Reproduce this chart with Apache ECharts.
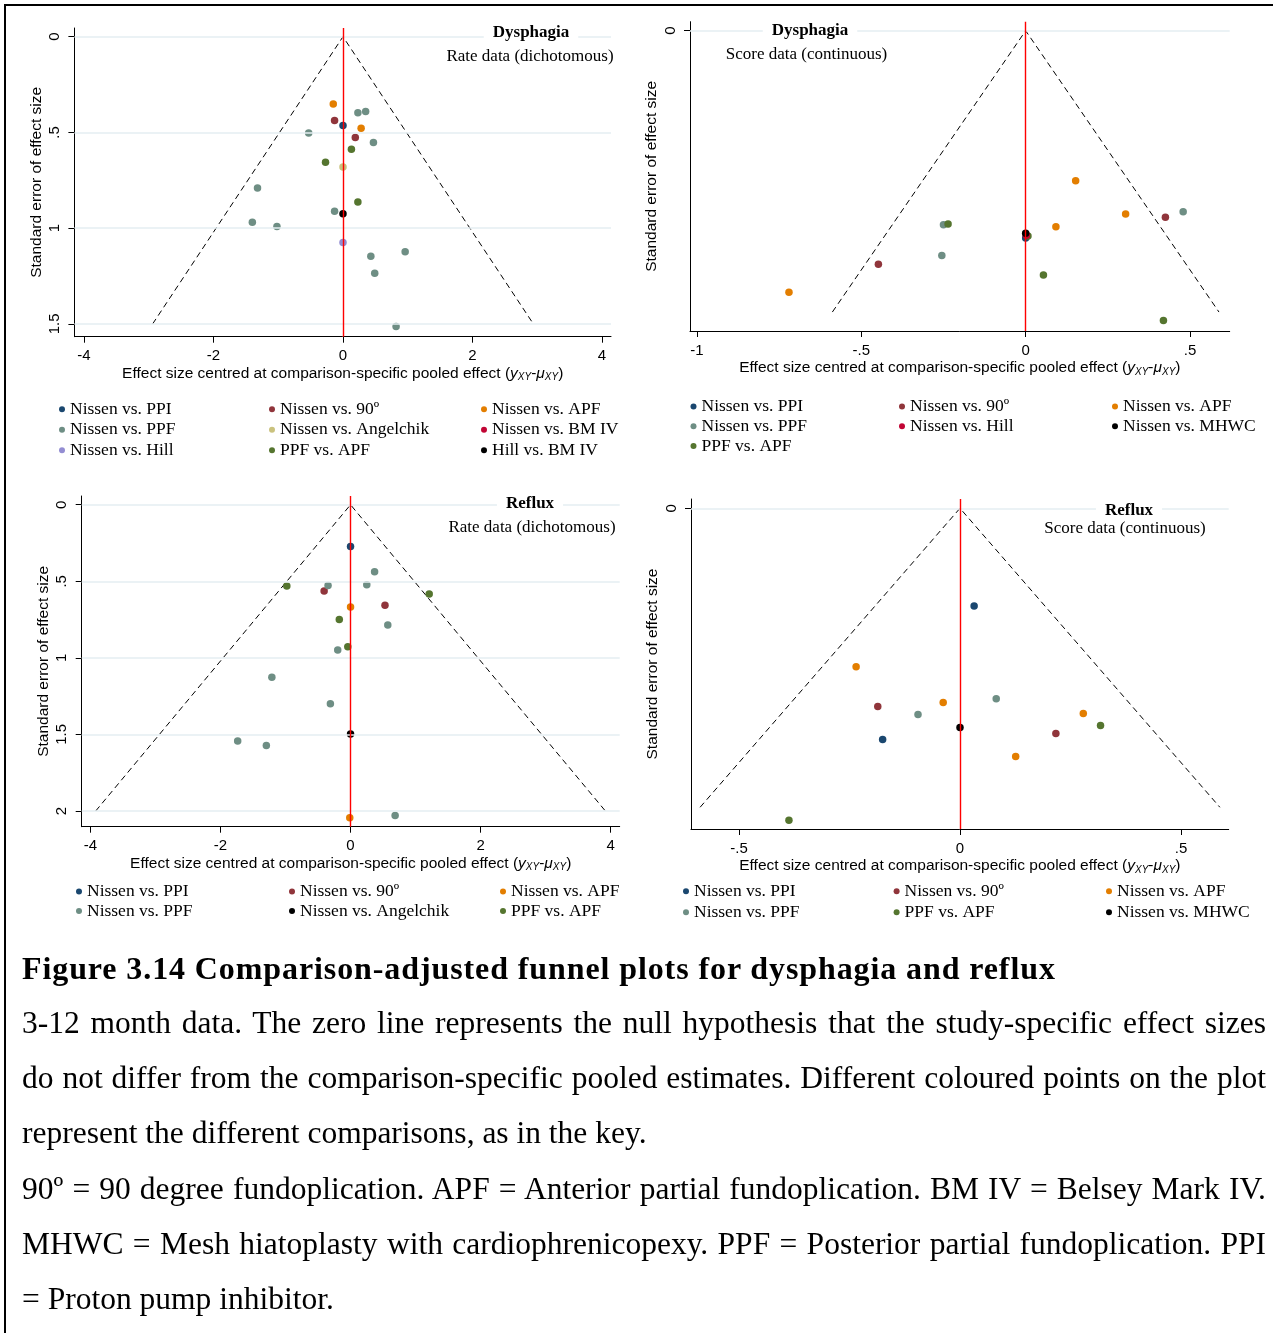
<!DOCTYPE html>
<html><head><meta charset="utf-8">
<script src="https://cdn.jsdelivr.net/npm/echarts@6/dist/echarts.min.js"></script>
<style>
html,body{margin:0;padding:0;background:#fff;}
#wrap{position:relative;width:1273px;height:1333px;overflow:hidden;background:#fff;}
#chart{position:absolute;left:0;top:0;width:1273px;height:1333px;}
#frame{position:absolute;left:4px;top:4px;width:1269px;height:1329px;border-top:2px solid #000;border-left:2px solid #000;box-sizing:border-box;pointer-events:none;}
.ttl{position:absolute;left:22px;top:948px;font-family:'Liberation Serif','Times New Roman',serif;font-weight:bold;font-size:32px;letter-spacing:0.9px;line-height:40px;white-space:nowrap;color:#000;}
.body{position:absolute;left:22px;top:995px;width:1244px;font-family:'Liberation Serif','Times New Roman',serif;font-size:31.5px;line-height:55.2px;color:#000;}
.j{text-align:justify;text-align-last:justify;}
.l{text-align:left;}
</style></head>
<body>
<div id="wrap">
<div id="chart"></div>
<div id="frame"></div>
<div class="ttl">Figure 3.14 Comparison-adjusted funnel plots for dysphagia and reflux</div>
<div class="body">
<div class="j">3-12 month data. The zero line represents the null hypothesis that the study-specific effect sizes</div>
<div class="j">do not differ from the comparison-specific pooled estimates. Different coloured points on the plot</div>
<div class="l">represent the different comparisons, as in the key.</div>
<div class="j">90º = 90 degree fundoplication. APF = Anterior partial fundoplication. BM IV = Belsey Mark IV.</div>
<div class="j">MHWC = Mesh hiatoplasty with cardiophrenicopexy. PPF = Posterior partial fundoplication. PPI</div>
<div class="l">= Proton pump inhibitor.</div>
</div>
</div>
<script>
// ---- tick labels ----
const xTicks1 = [-4, -2, 0, 2, 4];
const yTicks1 = [0, 0.5, 1, 1.5];
const xTicks2 = [-1, -0.5, 0, 0.5];
const yTicks2 = [0];
const xTicks3 = [-4, -2, 0, 2, 4];
const yTicks3 = [0, 0.5, 1, 1.5, 2];
const xTicks4 = [-0.5, 0, 0.5];
const yTicks4 = [0];

// ---- funnel limits (pseudo 95% CI) ----
const funnel1 = [[-2.94, 1.5], [0, 0], [2.94, 1.5]];
const funnel2 = [[-0.588, 0.3], [0, 0], [0.588, 0.3]];
const funnel3 = [[-3.92, 2], [0, 0], [3.92, 2]];
const funnel4 = [[-0.588, 0.3], [0, 0], [0.588, 0.3]];

// ---- Plot 1: Dysphagia, rate data ----
const p1_PPI = [[0.0, 0.464]];
const p1_90 = [[-0.13, 0.438], [0.19, 0.527]];
const p1_APF = [[-0.15, 0.351], [0.28, 0.478]];
const p1_PPF = [[0.23, 0.397], [0.35, 0.391], [-0.53, 0.503], [0.47, 0.553], [-1.32, 0.79], [-0.13, 0.911], [-1.40, 0.969], [-1.02, 0.991], [0.96, 1.123], [0.43, 1.146], [0.49, 1.235], [0.82, 1.513]];
const p1_Angelchik = [[0.0, 0.68]];
const p1_BMIV = [];
const p1_Hill = [[0.0, 1.075]];
const p1_PPFAPF = [[0.13, 0.588], [-0.27, 0.656], [0.23, 0.863]];
const p1_HillBMIV = [[0.0, 0.925]];

// ---- Plot 2: Dysphagia, score data ----
const p2_PPI = [[0.0, 0.221]];
const p2_90 = [[0.425, 0.199], [-0.448, 0.249]];
const p2_APF = [[0.152, 0.160], [0.304, 0.1955], [0.092, 0.209], [-0.72, 0.279]];
const p2_PPF = [[0.479, 0.193], [-0.250, 0.207], [-0.255, 0.2396]];
const p2_Hill = [[0.002, 0.218]];
const p2_MHWC = [[0.0, 0.216]];
const p2_PPFAPF = [[-0.236, 0.206], [0.007, 0.219], [0.054, 0.2606], [0.419, 0.309]];

// ---- Plot 3: Reflux, rate data ----
const p3_PPI = [[0.0, 0.272]];
const p3_90 = [[-0.406, 0.564], [0.53, 0.657]];
const p3_APF = [[0.0, 0.668], [-0.012, 2.044]];
const p3_PPF = [[0.37, 0.437], [-0.346, 0.527], [0.25, 0.522], [0.573, 0.786], [-0.197, 0.949], [-1.21, 1.127], [-0.31, 1.299], [-1.736, 1.543], [-1.295, 1.573], [0.686, 2.030]];
const p3_Angelchik = [[0.0, 1.497]];
const p3_PPFAPF = [[-0.98, 0.531], [1.21, 0.583], [-0.173, 0.749], [-0.042, 0.927]];

// ---- Plot 4: Reflux, score data ----
const p4_PPI = [[0.032, 0.098], [-0.175, 0.232]];
const p4_90 = [[-0.186, 0.199], [0.217, 0.226]];
const p4_APF = [[-0.235, 0.159], [-0.038, 0.195], [0.279, 0.206], [0.126, 0.249]];
const p4_PPF = [[0.082, 0.191], [-0.095, 0.207]];
const p4_PPFAPF = [[0.318, 0.218], [-0.387, 0.313]];
const p4_MHWC = [[0.0, 0.220]];

const C = {navy:'#1a476f', maroon:'#90353b', orange:'#e37e00', teal:'#6e8e84', khaki:'#cac27e',
           cranberry:'#c10534', lavender:'#938dd2', green:'#55752f', black:'#000000'};

const SANS = 'Liberation Sans, Arial, sans-serif';
const SERIF = 'Liberation Serif, Times New Roman, serif';

const plots = [
  { grid:{left:74.4, top:28, width:536.6, height:308.7}, x:[-4.148, 4.139], y:[-0.0454, 1.5666],
    xt:xTicks1, yt:yTicks1, funnel:funnel1,
    series:[['Nissen vs. PPI',C.navy,p1_PPI],['Nissen vs. 90º',C.maroon,p1_90],['Nissen vs. APF',C.orange,p1_APF],
            ['Nissen vs. PPF',C.teal,p1_PPF],['Nissen vs. Angelchik',C.khaki,p1_Angelchik],['Nissen vs. BM IV',C.cranberry,p1_BMIV],
            ['Nissen vs. Hill',C.lavender,p1_Hill],['PPF vs. APF',C.green,p1_PPFAPF],['Hill vs. BM IV',C.black,p1_HillBMIV]],
    t1:['Dysphagia',531,33], t2:['Rate data (dichotomous)',530,56.5],
    leg:{top:399, lh:20.5, lefts:[59,269,481]} },
  { grid:{left:690, top:21.7, width:539.7, height:309.3}, x:[-1.021, 0.6206], y:[-0.0096, 0.3202],
    xt:xTicks2, yt:yTicks2, funnel:funnel2,
    series:[['Nissen vs. PPI',C.navy,p2_PPI],['Nissen vs. 90º',C.maroon,p2_90],['Nissen vs. APF',C.orange,p2_APF],
            ['Nissen vs. PPF',C.teal,p2_PPF],['Nissen vs. Hill',C.cranberry,p2_Hill],['Nissen vs. MHWC',C.black,p2_MHWC],
            ['PPF vs. APF',C.green,p2_PPFAPF]],
    t1:['Dysphagia',810,30.7], t2:['Score data (continuous)',806.5,55],
    leg:{top:396.5, lh:19.8, lefts:[690.5,899,1112]}, drawOrder:[0,1,2,3,6,4,5] },
  { grid:{left:81.7, top:496, width:538, height:330.7}, x:[-4.135, 4.14], y:[-0.057, 2.1025],
    xt:xTicks3, yt:yTicks3, funnel:funnel3,
    series:[['Nissen vs. PPI',C.navy,p3_PPI],['Nissen vs. 90º',C.maroon,p3_90],['Nissen vs. APF',C.orange,p3_APF],
            ['Nissen vs. PPF',C.teal,p3_PPF],['Nissen vs. Angelchik',C.black,p3_Angelchik],['PPF vs. APF',C.green,p3_PPFAPF]],
    t1:['Reflux',530,503.3], t2:['Rate data (dichotomous)',532,528],
    leg:{top:881.7, lh:19.5, lefts:[76,289,500]} },
  { grid:{left:691, top:499, width:537.7, height:330}, x:[-0.6086, 0.608], y:[-0.0093, 0.3218],
    xt:xTicks4, yt:yTicks4, funnel:funnel4,
    series:[['Nissen vs. PPI',C.navy,p4_PPI],['Nissen vs. 90º',C.maroon,p4_90],['Nissen vs. APF',C.orange,p4_APF],
            ['Nissen vs. PPF',C.teal,p4_PPF],['PPF vs. APF',C.green,p4_PPFAPF],['Nissen vs. MHWC',C.black,p4_MHWC]],
    t1:['Reflux',1129,510.7], t2:['Score data (continuous)',1125,529],
    leg:{top:880.7, lh:21, lefts:[683,893.6,1106]} }
];

const fmt = v => String(+(+v).toFixed(3)).replace(/^(-?)0\./, '$1.');
const xName = '{a|Effect size centred at comparison-specific pooled effect (}{i|y}{s|XY}{a|-}{i|μ}{s|XY}{a|)}';

const option = {
  animation: false,
  backgroundColor: '#fff',
  grid: [], xAxis: [], yAxis: [], series: [], legend: [], graphic: []
};

plots.forEach((p, i) => {
  option.grid.push(Object.assign({containLabel:false, outerBoundsMode:'none', show:false}, p.grid));
  option.xAxis.push({
    gridIndex:i, type:'value', min:p.x[0], max:p.x[1],
    axisLine:{show:true, onZero:false, lineStyle:{color:'#000', width:1}},
    axisTick:{show:true, customValues:p.xt, length:6, lineStyle:{color:'#000', width:1}},
    axisLabel:{show:true, customValues:p.xt, formatter:fmt, margin:12, fontFamily:SANS, fontSize:15, color:'#000'},
    splitLine:{show:false},
    name:xName, nameLocation:'middle', nameGap:24,
    nameTextStyle:{fontFamily:SANS, fontSize:15.5, color:'#000', lineHeight:18,
      rich:{a:{fontFamily:SANS, fontSize:15.5, color:'#000', lineHeight:18},
            i:{fontFamily:SANS, fontSize:15.5, fontStyle:'italic', color:'#000', lineHeight:18},
            s:{fontFamily:SANS, fontSize:10, fontStyle:'italic', color:'#000', lineHeight:17, verticalAlign:'bottom'}}}
  });
  option.yAxis.push({
    gridIndex:i, type:'value', inverse:true, min:p.y[0], max:p.y[1],
    axisLine:{show:true, onZero:false, lineStyle:{color:'#000', width:1}},
    axisTick:{show:true, customValues:p.yt, length:6, lineStyle:{color:'#000', width:1}},
    axisLabel:{show:true, customValues:p.yt, formatter:fmt, rotate:90, margin:12, fontFamily:SANS, fontSize:15, color:'#000'},
    splitLine:{show:false},
    name:'Standard error of effect size', nameLocation:'middle', nameRotate:90, nameGap:30,
    nameTextStyle:{fontFamily:SANS, fontSize:15.5, color:'#000'}
  });
  // gridlines
  option.series.push({
    type:'line', xAxisIndex:i, yAxisIndex:i, data:[], z:1, silent:true,
    markLine:{silent:true, symbol:['none','none'], label:{show:false}, animation:false,
      lineStyle:{color:'#e4eef2', width:1.5, type:'solid'},
      data:p.yt.map(v => ({yAxis:v}))}
  });
  // zero (null) line
  option.series.push({
    type:'line', xAxisIndex:i, yAxisIndex:i, data:[], z:2, silent:true,
    markLine:{silent:true, symbol:['none','none'], label:{show:false}, animation:false,
      lineStyle:{color:'#ff0000', width:1.4, type:'solid'},
      data:[{xAxis:0}]}
  });
  // funnel
  option.series.push({
    type:'line', xAxisIndex:i, yAxisIndex:i, data:p.funnel, symbol:'none', z:2, silent:true,
    lineStyle:{color:'#000', width:1, type:[6,4]}
  });
  const order = p.drawOrder || p.series.map((_, k) => k);
  order.forEach(k => {
    const s = p.series[k];
    option.series.push({
      type:'scatter', name:s[0], xAxisIndex:i, yAxisIndex:i, data:s[2], symbol:'circle', symbolSize:7.5,
      itemStyle:{color:s[1], opacity:1}, z:3, silent:true
    });
  });
  // legends in 3 columns (row-wise order)
  for (let c = 0; c < 3; c++) {
    const items = p.series.filter((_, k) => k % 3 === c);
    option.legend.push({
      left:p.leg.lefts[c], top:p.leg.top, orient:'vertical', itemGap:0, itemWidth:6, itemHeight:6,
      icon:'circle', selectedMode:false, padding:0,
      textStyle:{fontFamily:SERIF, fontSize:17.5, color:'#000', lineHeight:p.leg.lh},
      data:items.map(s => ({name:s[0], itemStyle:{color:s[1]}}))
    });
  }
  option.graphic.push({type:'text', x:p.t1[1], y:p.t1[2], z:100, silent:true,
    style:{text:p.t1[0], font:'bold 17px ' + SERIF, fill:'#000', align:'center', verticalAlign:'middle', backgroundColor:'#fff', padding:[1,9]}});
  option.graphic.push({type:'text', x:p.t2[1], y:p.t2[2], z:100, silent:true,
    style:{text:p.t2[0], font:'17px ' + SERIF, fill:'#000', align:'center', verticalAlign:'middle'}});
});

const chart = echarts.init(document.getElementById('chart'), null, {renderer:'canvas', width:1273, height:1333});
chart.setOption(option);
</script>
</body></html>
